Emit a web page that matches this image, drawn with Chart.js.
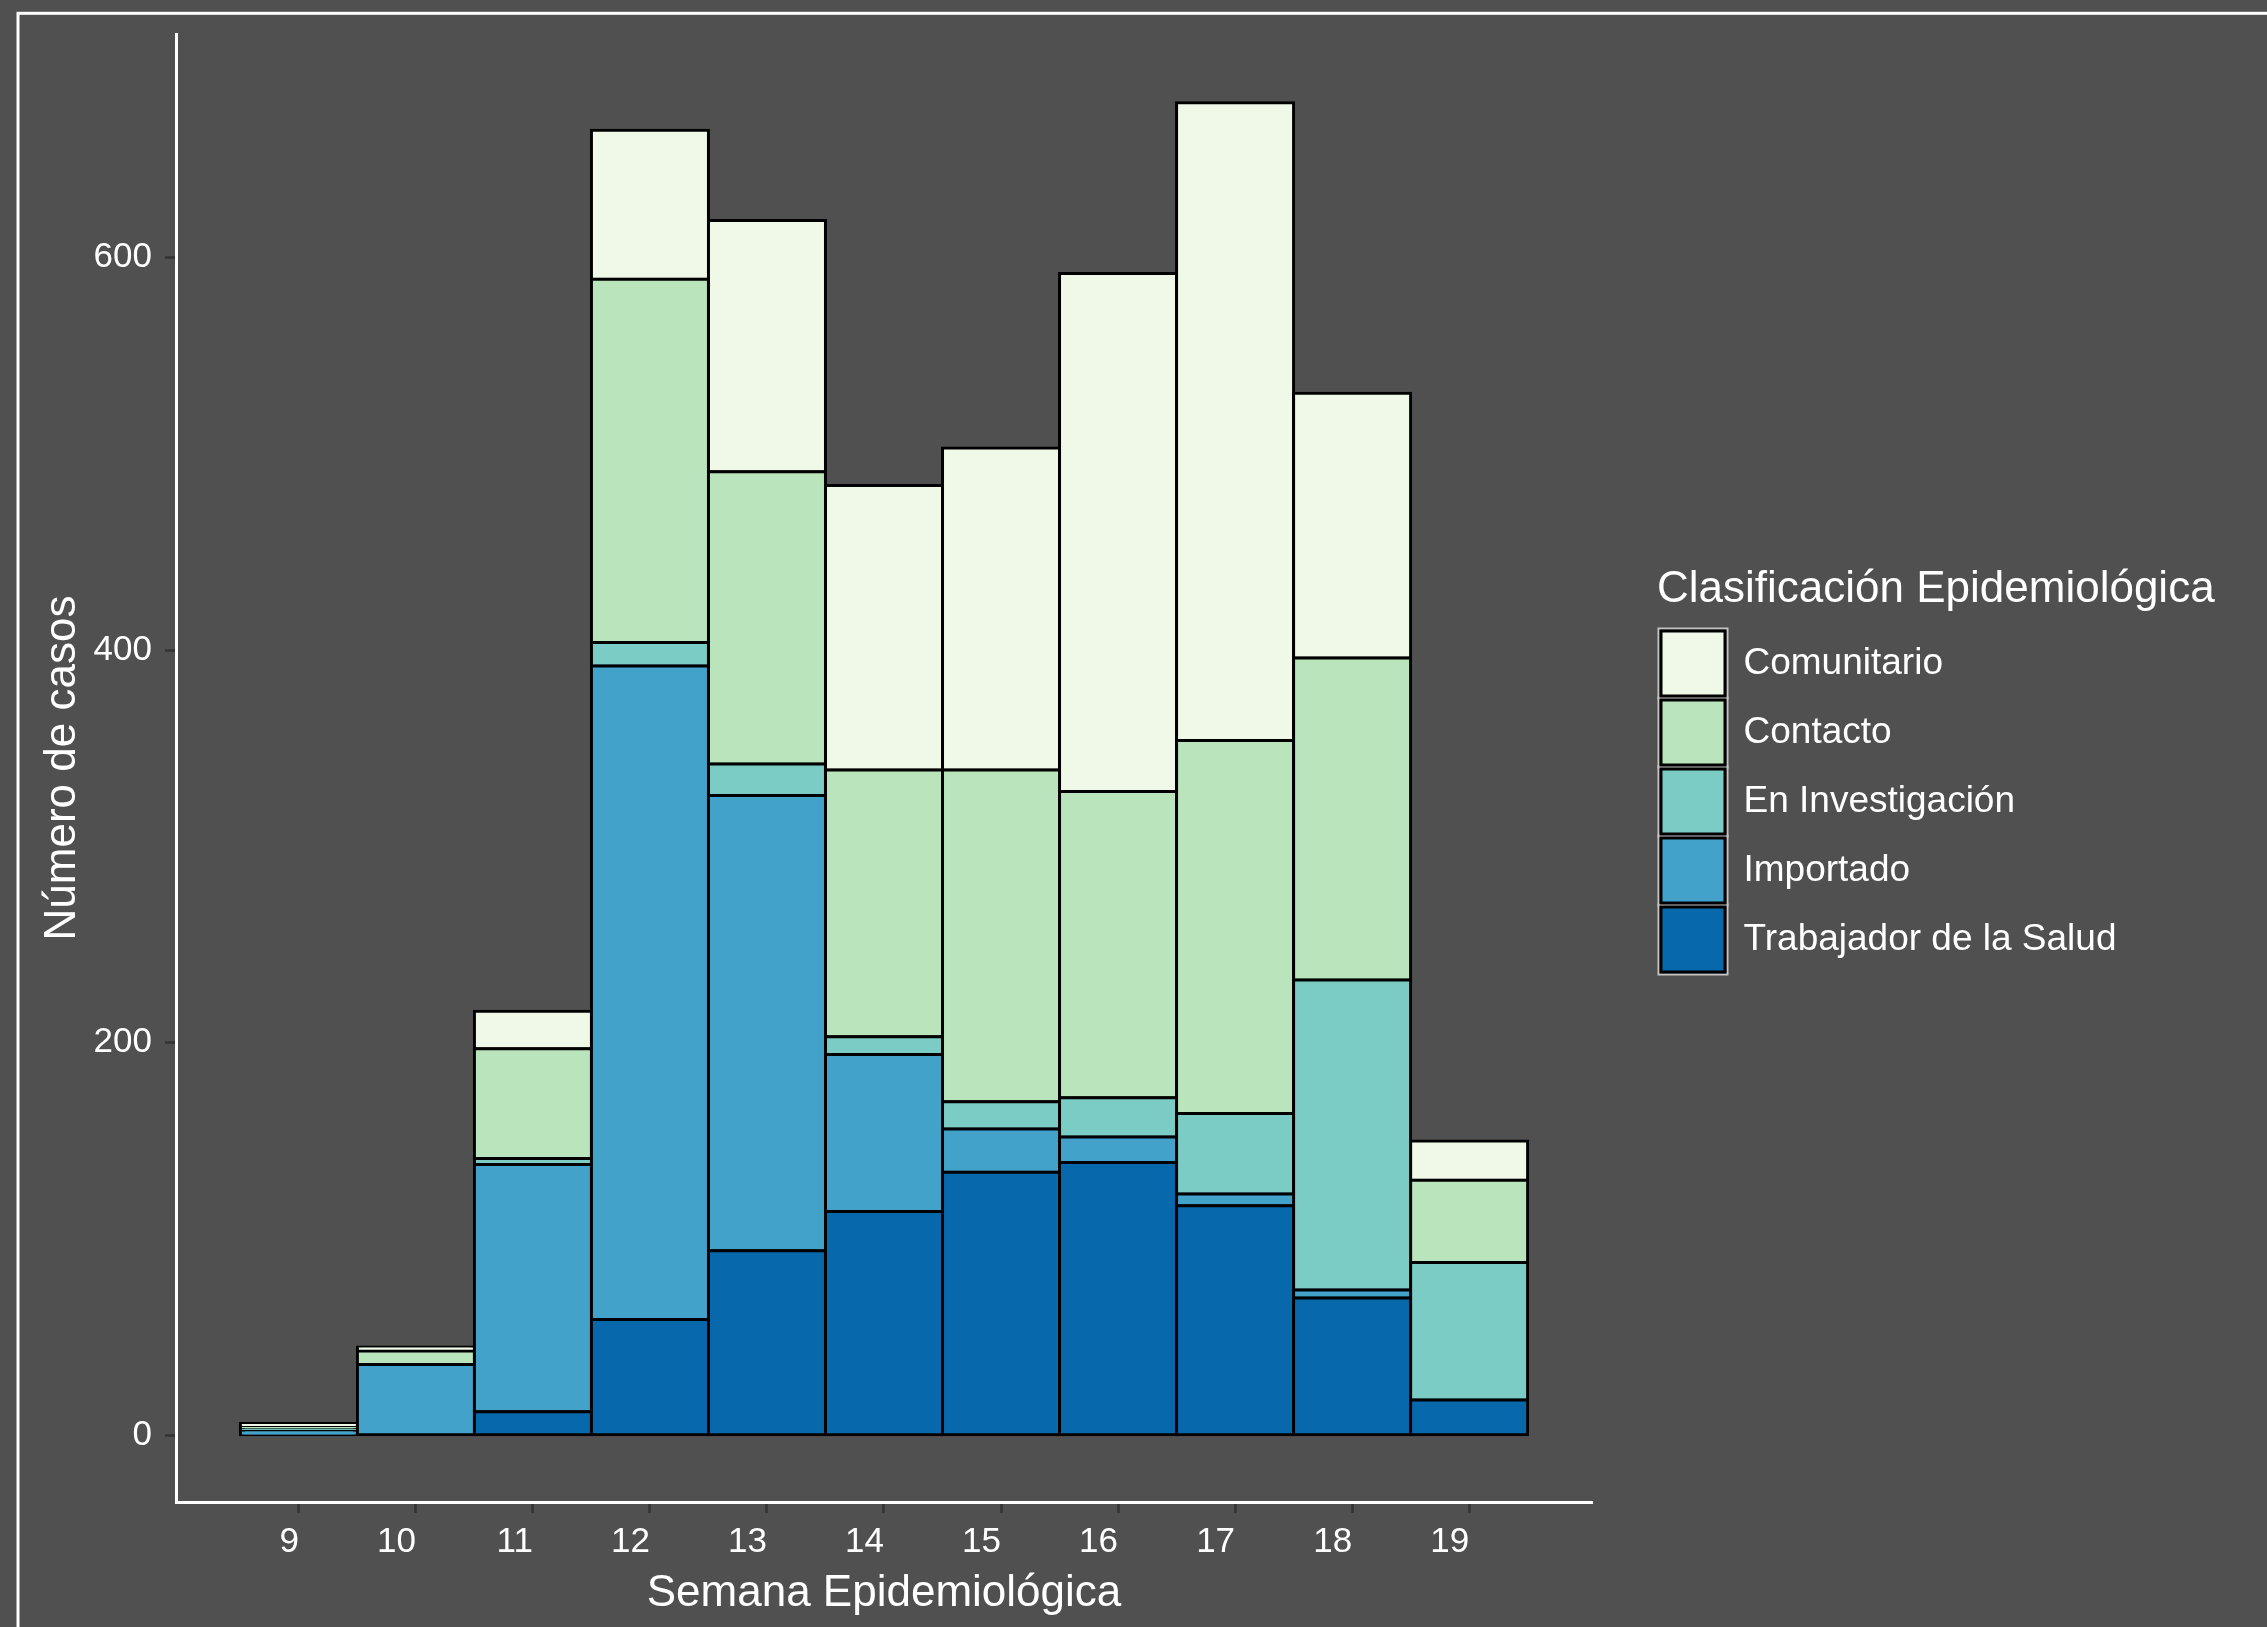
<!DOCTYPE html>
<html>
<head>
<meta charset="utf-8">
<script src="https://cdn.jsdelivr.net/npm/chart.js@4.4.1/dist/chart.umd.min.js"></script>
<style>
html,body{margin:0;padding:0;background:#505050;}
canvas{display:block;}
</style>
</head>
<body>
<canvas id="c" width="2267" height="1627"></canvas>
<script>
// ---- data ----
const weeks = [9, 10, 11, 12, 13, 14, 15, 16, 17, 18, 19];
const trabajadorSalud = [0, 0, 12, 59, 94, 114, 134, 139, 117, 70, 18];
const importado       = [2, 36, 126, 333, 232, 80, 22, 13, 6, 4, 0];
const enInvestigacion = [1, 0, 3, 12, 16, 9, 14, 20, 41, 158, 70];
const contacto        = [1, 7, 56, 185, 149, 136, 169, 156, 190, 164, 42];
const comunitario     = [2, 2, 19, 76, 128, 145, 164, 264, 325, 135, 20];
const seriesNames = ['Trabajador de la Salud', 'Importado', 'En Investigación', 'Contacto', 'Comunitario'];
const seriesColors = ['#0868ac', '#43a2ca', '#7bccc4', '#bae4bc', '#f0f9e8'];
const yTicks = [0, 200, 400, 600];
const xTitle = 'Semana Epidemiológica';
const yTitle = 'Número de casos';
const legendTitle = 'Clasificación Epidemiológica';

const FAMILY = "'Liberation Sans', Arial, sans-serif";
const BG = '#505050';
const TITLE_SIZE = 44;
const TEXT_SIZE = 35;
const LEGEND_TEXT_SIZE = 37;
Chart.defaults.font.family = FAMILY;

const seriesValues = [trabajadorSalud, importado, enInvestigacion, contacto, comunitario];
const datasets = seriesNames.map((name, i) => ({
  label: name,
  data: weeks.map((w, j) => ({ x: w, y: seriesValues[i][j] === 0 ? null : seriesValues[i][j] })),
  backgroundColor: seriesColors[i],
  borderColor: '#000000',
  borderWidth: 3,
  borderSkipped: false,
  inflateAmount: 1.5,
  barPercentage: 1,
  categoryPercentage: 1
}));

const LEG = { left: 1657, firstY: 631, boxW: 64, boxH: 65, pad: 4, titlePadB: 6 };

const decor = {
  id: 'decor',
  afterLayout(chart) {
    const lg = chart.legend;
    lg.left = LEG.left;
    lg.right = chart.width;
    const titleH = TITLE_SIZE * 1.2 + LEG.titlePadB;
    const colH = seriesNames.length * (LEG.boxH + LEG.pad);
    const cur = (lg.top + titleH + LEG.pad + lg.bottom - colH) / 2;
    const dy = LEG.firstY - cur;
    lg.top += dy; lg.bottom += dy;
  },
  beforeDraw(chart) {
    const ctx = chart.ctx;
    ctx.save();
    ctx.fillStyle = BG;
    ctx.fillRect(0, 0, chart.width, chart.height);
    ctx.strokeStyle = '#ffffff';
    ctx.lineWidth = 3;
    ctx.strokeRect(18, 13.3, chart.width + 50, chart.height + 50);
    // grey frames around legend keys
    const lg = chart.legend;
    ctx.strokeStyle = '#c4c4c4';
    ctx.lineWidth = 2;
    const x = lg.left + LEG.pad;
    for (let i = 0; i < seriesNames.length; i++) {
      const y = LEG.firstY + i * (LEG.boxH + LEG.pad);
      ctx.strokeRect(x - 2.5, y - 2.5, LEG.boxW + 5, LEG.boxH + 5);
    }
    ctx.restore();
  }
};

new Chart(document.getElementById('c'), {
  type: 'bar',
  data: { datasets },
  plugins: [decor],
  options: {
    responsive: false,
    animation: false,
    devicePixelRatio: 1,
    layout: { padding: { top: 32, left: 0, right: 275, bottom: 0 } },
    plugins: {
      tooltip: { enabled: false },
      legend: {
        position: 'right',
        align: 'center',
        reverse: true,
        maxWidth: 400,
        title: {
          display: true, text: legendTitle, color: '#ffffff', position: 'start',
          font: { family: FAMILY, size: TITLE_SIZE }, padding: { top: 0, bottom: LEG.titlePadB }
        },
        labels: {
          color: '#ffffff', font: { family: FAMILY, size: LEGEND_TEXT_SIZE },
          boxWidth: LEG.boxW, boxHeight: LEG.boxH, padding: LEG.pad
        }
      }
    },
    scales: {
      x: {
        type: 'linear', min: 7.95, max: 20.05, stacked: true, offset: false,
        afterBuildTicks: s => { s.ticks = weeks.map(v => ({ value: v })); },
        afterFit: s => { s.height = 125; },
        grid: { display: true, drawOnChartArea: false, drawTicks: true, tickLength: 11, tickColor: '#333333', tickWidth: 2.5, offset: false },
        border: { display: true, color: '#ffffff', width: 3 },
        ticks: { color: '#ffffff', font: { family: FAMILY, size: TEXT_SIZE }, align: 'end', padding: 8, maxRotation: 0, autoSkip: false },
        title: { display: true, text: xTitle, color: '#ffffff', font: { family: FAMILY, size: TITLE_SIZE }, padding: { top: 0, bottom: 7 } }
      },
      y: {
        type: 'linear', min: -34, max: 714, stacked: true,
        afterBuildTicks: s => { s.ticks = yTicks.map(v => ({ value: v })); },
        afterFit: s => { s.width = 176; },
        grid: { display: true, drawOnChartArea: false, drawTicks: true, tickLength: 11, tickColor: '#333333', tickWidth: 2.5 },
        border: { display: true, color: '#ffffff', width: 3 },
        ticks: { color: '#ffffff', font: { family: FAMILY, size: TEXT_SIZE }, padding: 13 },
        title: { display: true, text: yTitle, color: '#ffffff', font: { family: FAMILY, size: TITLE_SIZE }, padding: { top: 36, bottom: 0 } }
      }
    }
  }
});
</script>
</body>
</html>
